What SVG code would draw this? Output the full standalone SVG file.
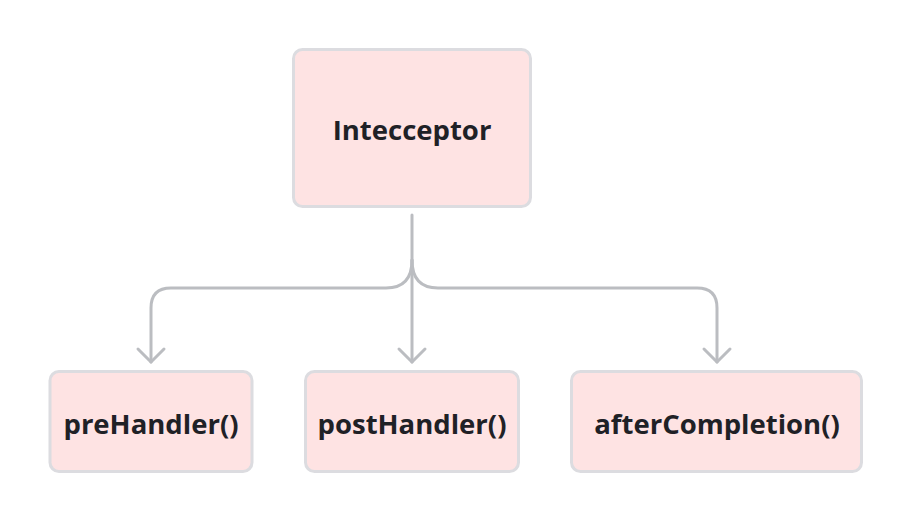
<svg xmlns="http://www.w3.org/2000/svg" width="912" height="522" viewBox="0 0 912 522">
<style>
.box{fill:#fee3e3;stroke:#dcdce0;stroke-width:3}
.lbl{font-family:"Source Sans Pro","Open Sans","Noto Sans",sans-serif;font-weight:700;font-size:27.5px;fill:#1f2126;text-anchor:middle}
.edge{fill:none;stroke:#bbbdc1;stroke-width:3;stroke-linecap:round;stroke-linejoin:round}
</style>
<rect width="912" height="522" fill="#ffffff"/>
<g id="edges">
<path class="edge" d="M412 215 V362"/>
<path class="edge" d="M412 260 Q412 288 386 288 H171 Q151 288 151 308 V362"/>
<path class="edge" d="M412 260 Q412 288 438 288 H697 Q717 288 717 308 V362"/>
<path class="edge" d="M138 349 L151 362 L164 349"/>
<path class="edge" d="M399 349 L412 362 L425 349"/>
<path class="edge" d="M704 349 L717 362 L730 349"/>
</g>
<g id="interceptor">
<rect class="box" x="293.5" y="49.5" width="237" height="157" rx="9"/>
<text class="lbl" x="412" y="139.5">Intecceptor</text>
</g>
<g id="preHandler">
<rect class="box" x="50" y="371.5" width="202" height="100" rx="9"/>
<text class="lbl" x="151" y="434">preHandler()</text>
</g>
<g id="postHandler">
<rect class="box" x="305.5" y="371.5" width="213" height="100" rx="9"/>
<text class="lbl" x="412" y="434">postHandler()</text>
</g>
<g id="afterCompletion">
<rect class="box" x="571.5" y="371.5" width="290" height="100" rx="9"/>
<text class="lbl" x="717" y="434">afterCompletion()</text>
</g>
</svg>
